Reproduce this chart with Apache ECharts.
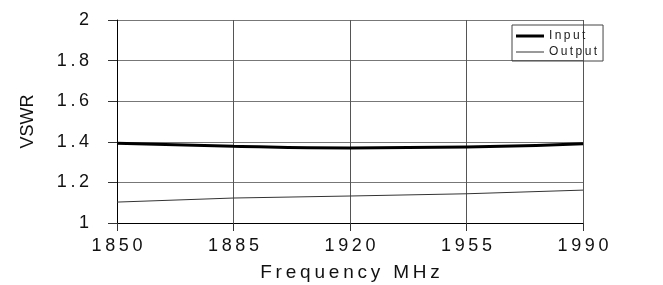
<!DOCTYPE html>
<html>
<head>
<meta charset="utf-8">
<script src="https://cdn.jsdelivr.net/npm/echarts@6/dist/echarts.min.js"></script>
<style>
    html, body { margin: 0; padding: 0; background: #fff; }
    #chart { width: 663px; height: 285px; }
</style>
</head>
<body>
<div id="chart"></div>
<script>
    // frequency points (MHz), also the x tick labels
    var freqs = [ '1850', '1885', '1920', '1955', '1990' ];
    // VSWR
    var inputVswr = [ 1.393, 1.378, 1.370, 1.374, 1.391 ];
    var outputVswr = [ 1.103, 1.123, 1.133, 1.144, 1.162 ];
    var yTicks = [ 1, 1.2, 1.4, 1.6, 1.8, 2 ];

    // spread letters apart like the old plot
    function spaced( s ) {
        return String( s ).split( '' ).join( '\u2009' );
    }

    var myChart = echarts.init( document.getElementById( 'chart' ) ),
        option = {
            animation: false,
            textStyle: { fontFamily: 'Liberation Sans' },
            grid: {
                left: 117,
                right: 80,
                top: 20,
                bottom: 62,
                containLabel: false,
                outerBoundsMode: 'none'
            },
            legend: {
                orient: 'vertical',
                left: 512,
                top: 25,
                padding: [ 5, 6, 3, 4 ],
                borderColor: '#444',
                borderWidth: 1,
                itemWidth: 28,
                itemHeight: 10,
                itemGap: 4,
                textStyle: { fontSize: 12, color: '#222' },
                formatter: function( name ) { return spaced( name ); },
                data: [
                    { name: 'Input', icon: 'path://M0,0 H28 V3 H0 Z', itemStyle: { color: '#000' } },
                    { name: 'Output', icon: 'path://M0,0 H28 V1 H0 Z', itemStyle: { color: '#333' } }
                ]
            },
            xAxis: {
                type: 'category',
                boundaryGap: false,
                data: freqs,
                name: spaced( 'Frequency MHz' ),
                nameLocation: 'middle',
                nameGap: 40,
                nameTextStyle: { fontSize: 19, color: '#111' },
                axisLine: { lineStyle: { color: '#000', width: 1 } },
                axisTick: { show: true, length: 8, lineStyle: { color: '#333' } },
                axisLabel: {
                    fontSize: 18,
                    color: '#111',
                    margin: 14,
                    formatter: function( v ) { return spaced( v ); }
                },
                splitLine: { show: true, lineStyle: { color: '#555', width: 1 } }
            },
            yAxis: {
                type: 'value',
                min: yTicks[ 0 ],
                max: yTicks[ yTicks.length - 1 ],
                interval: 0.2,
                name: 'VSWR',
                nameLocation: 'middle',
                nameGap: 80,
                nameTextStyle: { fontSize: 18, color: '#111' },
                axisLine: { show: true, lineStyle: { color: '#000', width: 1 } },
                axisTick: { show: true, length: 9, lineStyle: { color: '#333' } },
                axisLabel: {
                    fontSize: 18,
                    color: '#111',
                    margin: 28,
                    formatter: function( v ) { return spaced( +v.toFixed( 1 ) ); }
                },
                splitLine: { show: true, lineStyle: { color: '#777', width: 1 } }
            },
            series: [
                {
                    name: 'Input',
                    type: 'line',
                    smooth: true,
                    symbol: 'none',
                    lineStyle: { color: '#000', width: 3 },
                    itemStyle: { color: '#000' },
                    data: inputVswr
                },
                {
                    name: 'Output',
                    type: 'line',
                    symbol: 'none',
                    lineStyle: { color: '#333', width: 1 },
                    itemStyle: { color: '#333' },
                    data: outputVswr
                }
            ]
        };

    myChart.setOption( option );
</script>
</body>
</html>
